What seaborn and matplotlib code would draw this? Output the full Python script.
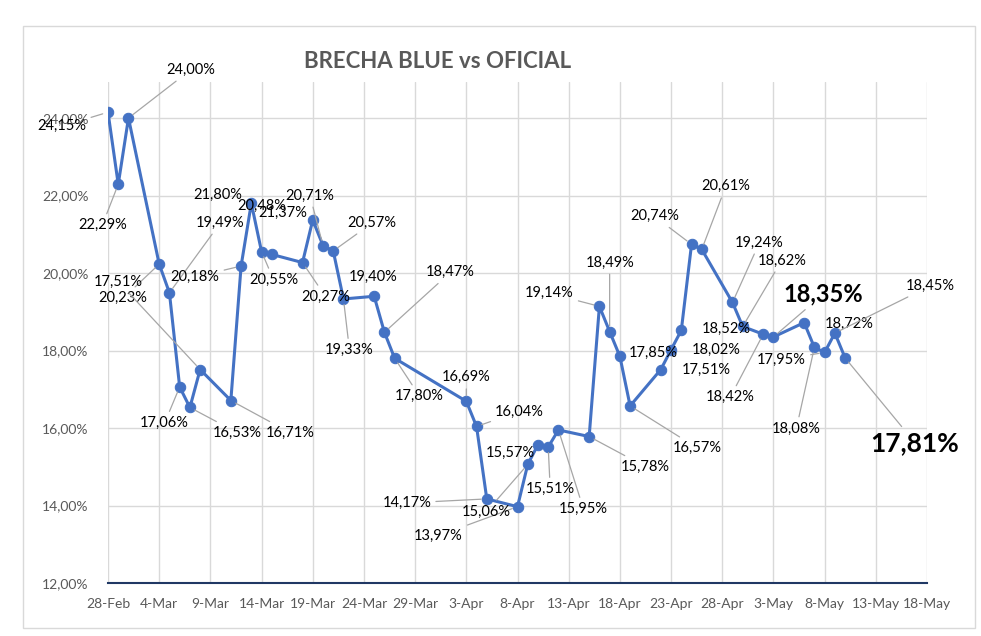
import matplotlib
matplotlib.use("Agg")
import matplotlib.pyplot as plt
import matplotlib.dates as mdates
from matplotlib.ticker import FuncFormatter
from matplotlib.patches import Rectangle
import seaborn as sns
import pandas as pd

# ---------------- data ----------------
dates = ["2024-02-28", "2024-02-29", "2024-03-01", "2024-03-04", "2024-03-05", "2024-03-06",
         "2024-03-07", "2024-03-08", "2024-03-11", "2024-03-12", "2024-03-13", "2024-03-14",
         "2024-03-15", "2024-03-18", "2024-03-19", "2024-03-20", "2024-03-21", "2024-03-22",
         "2024-03-25", "2024-03-26", "2024-03-27", "2024-04-03", "2024-04-04", "2024-04-05",
         "2024-04-08", "2024-04-09", "2024-04-10", "2024-04-11", "2024-04-12", "2024-04-15",
         "2024-04-16", "2024-04-17", "2024-04-18", "2024-04-19", "2024-04-22", "2024-04-23",
         "2024-04-24", "2024-04-25", "2024-04-26", "2024-04-29", "2024-04-30", "2024-05-02",
         "2024-05-03", "2024-05-06", "2024-05-07", "2024-05-08", "2024-05-09", "2024-05-10"]
brecha = [24.15, 22.29, 24.00, 20.23, 19.49, 17.06,
          16.53, 17.51, 16.71, 20.18, 21.80, 20.55,
          20.48, 20.27, 21.37, 20.71, 20.57, 19.33,
          19.40, 18.47, 17.80, 16.69, 16.04, 14.17,
          13.97, 15.06, 15.57, 15.51, 15.95, 15.78,
          19.14, 18.49, 17.85, 16.57, 17.51, 18.02,
          18.52, 20.74, 20.61, 19.24, 18.62, 18.42,
          18.35, 18.72, 18.08, 17.95, 18.45, 17.81]
bold_labels = ["2024-05-03", "2024-05-10"]
y_ticks = [12, 14, 16, 18, 20, 22, 24]
title = "BRECHA BLUE vs OFICIAL"

# label placement (pixel offsets from each point) and leader-line flags
label_dx = [-46, -16, 62, -36, 51, -15, 47, -82, 59, -46, -34, 12,
            -10, 23, -30, -13, 39, 6, -1, 66, 25, 0, 43, -80,
            -79, -41, -28, 2, 25, 56, -50, 0, 33, 67, 45, 45,
            45, -37, 24, 27, 39, -33, 50, 45, -18, -43, 95, 70]
label_dy = [-14, -41, 48, -34, 70, -36, -25, 88, -32, -11, 8, -28,
            49, -34, 7, 50, 28, -51, 19, 60, -38, 24, 15, -4,
            -29, -47, -8, -42, -79, -30, 13, 69, 3, -42, 0, 0,
            1, 28, 63, 60, 66, -63, 43, -1, -81, -7, 47, -85]
leader = [1, 1, 1, 1, 1, 1, 1, 1, 1, 1, 0, 1,
          0, 1, 0, 1, 1, 1, 0, 1, 1, 1, 1, 1,
          1, 1, 0, 1, 1, 1, 1, 1, 0, 1, 0, 0,
          0, 1, 1, 1, 1, 1, 1, 0, 1, 1, 1, 1]

df = pd.DataFrame({"date": pd.to_datetime(dates), "brecha": brecha})

# ---------------- figure ----------------
sns.set_theme(style="white")
plt.rcParams["font.family"] = ["Lato", "DejaVu Sans"]

W, H = 981, 636
fig = plt.figure(figsize=(W / 100, H / 100), dpi=100)
fig.patch.set_facecolor("white")
ax = fig.add_axes([108 / W, 1 - 583 / H, (927 - 108) / W, (583 - 82) / H])

# chart border
fig.patches.append(Rectangle((23 / W, 1 - 628 / H), (975 - 23) / W, (628 - 26) / H,
                             transform=fig.transFigure, fill=False,
                             edgecolor="#d9d9d9", linewidth=1))

blue = "#4472C4"
sns.lineplot(data=df, x="date", y="brecha", ax=ax, color=blue, linewidth=2.2,
             marker="o", markersize=7.5, markeredgecolor=blue, markerfacecolor=blue,
             zorder=3)

ax.set_xlim(pd.Timestamp("2024-02-28"), pd.Timestamp("2024-05-18"))
ax.set_ylim(12, 24.93)

xt = pd.date_range("2024-02-28", "2024-05-18", freq="5D")
ax.set_xticks(xt)
ax.set_xticklabels([f"{d.day}-{d.strftime('%b')}" for d in xt])
ax.set_yticks(y_ticks)
ax.yaxis.set_major_formatter(FuncFormatter(lambda v, p: f"{v:.2f}%".replace(".", ",")))

ax.grid(True, color="#d9d9d9", linewidth=1)
ax.set_axisbelow(True)
for s in ["top", "right", "left"]:
    ax.spines[s].set_visible(False)
ax.spines["bottom"].set_color("#203864")
ax.spines["bottom"].set_linewidth(1.5)
ax.tick_params(axis="both", length=0, labelsize=10, colors="#595959")
ax.tick_params(axis="y", pad=14)
ax.tick_params(axis="x", pad=11)
ax.set_xlabel("")
ax.set_ylabel("")

# data labels
for i, (d, v) in enumerate(zip(df["date"], brecha)):
    txt = f"{v:.2f}%".replace(".", ",")
    is_bold = d.strftime("%Y-%m-%d") in bold_labels
    kw = dict(fontsize=17 if is_bold else 10.5, fontweight="bold" if is_bold else "normal",
              color="black", ha="center", va="center", zorder=4)
    if d.strftime("%Y-%m-%d") == "2024-05-10":
        kw["fontsize"] = 19
    ap = None
    if leader[i]:
        ap = dict(arrowstyle="-", color="#a6a6a6", lw=0.9, shrinkA=1, shrinkB=4)
    ax.annotate(txt, xy=(d, v), xytext=(label_dx[i], label_dy[i]),
                textcoords="offset pixels", arrowprops=ap, **kw)

fig.text(438 / W, 1 - 62 / H, title, ha="center", va="center",
         fontsize=16, fontweight="bold", color="#595959")

fig.savefig("out.png", dpi=100)
